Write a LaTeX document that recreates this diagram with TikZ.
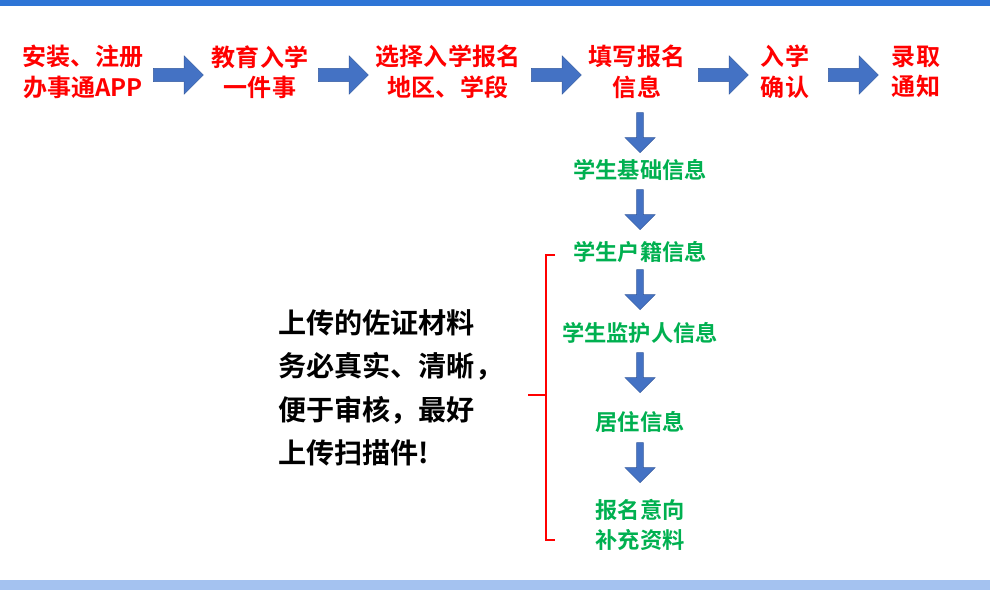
\documentclass[tikz,border=0pt]{standalone}
\usepackage{fontspec}
\setmainfont{Noto Sans CJK SC}[BoldFont={Noto Sans CJK SC Bold}]
\usetikzlibrary{shapes.arrows,calc,positioning}
\definecolor{arrowblue}{HTML}{4472C4}
\definecolor{stepred}{HTML}{FF0000}
\definecolor{infogreen}{HTML}{00B050}
\definecolor{topbar}{HTML}{2E75D6}
\definecolor{bottombar}{HTML}{A4C2F0}
\tikzset{
  stage/.style={text=stepred, font=\fontsize{20.5}{26}\selectfont\bfseries, align=center, inner sep=0pt},
  info/.style={text=infogreen, font=\fontsize{19}{25}\selectfont\bfseries, align=center, inner sep=0pt},
  harrow/.style={single arrow, fill=arrowblue, draw=arrowblue!80!black, minimum width=1.15cm, single arrow head extend=0.2cm, minimum height=1.5cm, inner sep=0.1cm},
  varrow/.style={single arrow, fill=arrowblue, draw=arrowblue!80!black, shape border rotate=270, minimum width=0.9cm, single arrow head extend=0.2cm, minimum height=1.2cm, inner sep=0.05cm},
}
\begin{document}
\begin{tikzpicture}[x=0.03cm, y=-0.03cm]
\useasboundingbox (0,0) rectangle (990,590);
\fill[topbar] (0,0) rectangle (990,6);
\fill[bottombar] (0,580) rectangle (990,590);

% top row
\node[stage] (install) at (83,72) {安装、注册\\办事通APP};
\node[stage] (affair) at (260,72) {教育入学\\一件事};
\node[stage] (region) at (448,72) {选择入学报名\\地区、学段};
\node[stage] (fill) at (637,72) {填写报名\\信息};
\node[stage] (confirm) at (785,72) {入学\\确认};
\node[stage] (admit) at (916,72) {录取\\通知};

\node[harrow] (a1) at (175,75) {};
\node[harrow] (a2) at (340,75) {};
\node[harrow] (a3) at (553,75) {};
\node[harrow] (a4) at (720,75) {};
\node[harrow] (a5) at (850,75) {};

% info column
\node[info] (basic) at (640,170) {学生基础信息};
\node[info] (huji) at (640,252) {学生户籍信息};
\node[info] (guardian) at (640,333) {学生监护人信息};
\node[info] (live) at (640,422) {居住信息};
\node[info] (extra) at (640,525) {报名意向\\补充资料};

\node[varrow] (v1) at (640,131) {};
\node[varrow] (v2) at (640,208) {};
\node[varrow] (v3) at (640,288) {};
\node[varrow] (v4) at (640,371) {};
\node[varrow] (v5) at (640,461) {};

% note and brace
\node[font=\fontsize{24}{37}\selectfont\bfseries, align=left, inner sep=0pt, anchor=west] (note) at (278,388) {上传的佐证材料\\务必真实、清晰，\\便于审核，最好\\上传扫描件!};
\draw[stepred, line width=1.8pt] (555,255) -- (546,255) -- (546,540) -- (555,540);
\coordinate (tip) at (528,395);
\draw[stepred, line width=1.8pt] (546,395) -- (tip);
\end{tikzpicture}
\end{document}
